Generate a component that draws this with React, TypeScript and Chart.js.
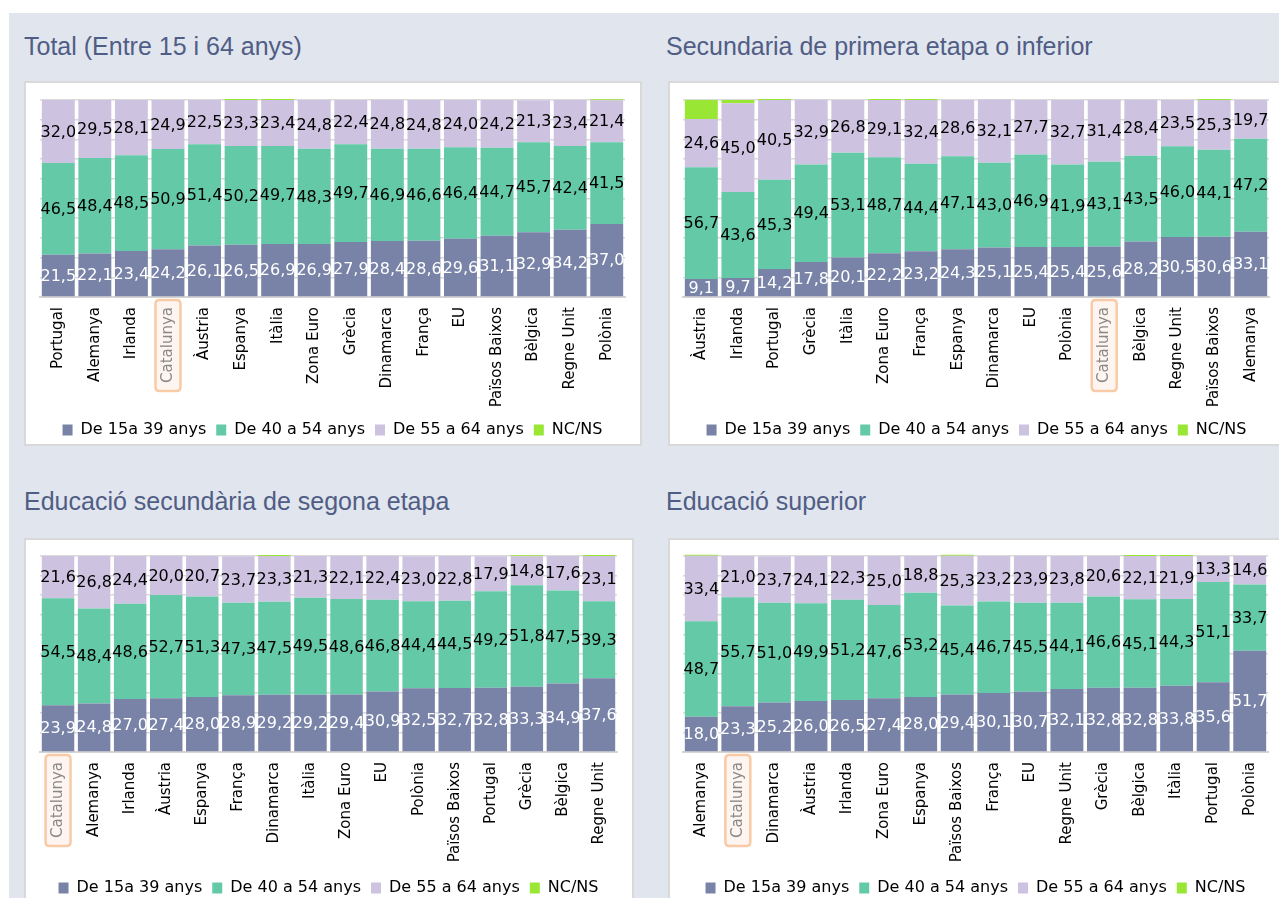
import React, { useEffect, useRef } from 'react';
import { Chart, registerables } from 'chart.js';

Chart.register(...registerables);

const SERIES_NAMES = ['De 15a 39 anys', 'De 40 a 54 anys', 'De 55 a 64 anys', 'NC/NS'];
const SERIES_COLORS = ['#7883A7', '#63C9A7', '#CDC3E0', '#9AE634'];

// Panel 1: Total (Entre 15 i 64 anys)
const totalCategories = ['Portugal', 'Alemanya', 'Irlanda', 'Catalunya', 'Àustria', 'Espanya', 'Itàlia', 'Zona Euro', 'Grècia', 'Dinamarca', 'França', 'EU', 'Països Baixos', 'Bèlgica', 'Regne Unit', 'Polònia'];
const total15to39 = [21.5, 22.1, 23.4, 24.2, 26.1, 26.5, 26.9, 26.9, 27.9, 28.4, 28.6, 29.6, 31.1, 32.9, 34.2, 37.0];
const total40to54 = [46.5, 48.4, 48.5, 50.9, 51.4, 50.2, 49.7, 48.3, 49.7, 46.9, 46.6, 46.4, 44.7, 45.7, 42.4, 41.5];
const total55to64 = [32.0, 29.5, 28.1, 24.9, 22.5, 23.3, 23.4, 24.8, 22.4, 24.8, 24.8, 24.0, 24.2, 21.3, 23.4, 21.4];
const totalNcns = [0, 0, 0, 0, 0, 0.5, 0.5, 0, 0, 0, 0, 0, 0, 0, 0, 0.5];

// Panel 2: Secundaria de primera etapa o inferior
const primCategories = ['Àustria', 'Irlanda', 'Portugal', 'Grècia', 'Itàlia', 'Zona Euro', 'França', 'Espanya', 'Dinamarca', 'EU', 'Polònia', 'Catalunya', 'Bèlgica', 'Regne Unit', 'Països Baixos', 'Alemanya'];
const prim15to39 = [9.1, 9.7, 14.2, 17.8, 20.1, 22.2, 23.2, 24.3, 25.1, 25.4, 25.4, 25.6, 28.2, 30.5, 30.6, 33.1];
const prim40to54 = [56.7, 43.6, 45.3, 49.4, 53.1, 48.7, 44.4, 47.1, 43.0, 46.9, 41.9, 43.1, 43.5, 46.0, 44.1, 47.2];
const prim55to64 = [24.6, 45.0, 40.5, 32.9, 26.8, 29.1, 32.4, 28.6, 32.1, 27.7, 32.7, 31.4, 28.4, 23.5, 25.3, 19.7];
const primNcns = [9.6, 1.7, 0.5, 0, 0, 0.5, 0.5, 0, 0, 0, 0, 0, 0, 0, 0.5, 0];

// Panel 3: Educació secundària de segona etapa
const secCategories = ['Catalunya', 'Alemanya', 'Irlanda', 'Àustria', 'Espanya', 'França', 'Dinamarca', 'Itàlia', 'Zona Euro', 'EU', 'Polònia', 'Països Baixos', 'Portugal', 'Grècia', 'Bèlgica', 'Regne Unit'];
const sec15to39 = [23.9, 24.8, 27.0, 27.4, 28.0, 28.9, 29.2, 29.2, 29.4, 30.9, 32.5, 32.7, 32.8, 33.3, 34.9, 37.6];
const sec40to54 = [54.5, 48.4, 48.6, 52.7, 51.3, 47.3, 47.5, 49.5, 48.6, 46.8, 44.4, 44.5, 49.2, 51.8, 47.5, 39.3];
const sec55to64 = [21.6, 26.8, 24.4, 20.0, 20.7, 23.7, 23.3, 21.3, 22.1, 22.4, 23.0, 22.8, 17.9, 14.8, 17.6, 23.1];
const secNcns = [0, 0, 0, 0, 0, 0, 0.5, 0, 0, 0, 0, 0, 0, 0.5, 0, 0.5];

// Panel 4: Educació superior
const supCategories = ['Alemanya', 'Catalunya', 'Dinamarca', 'Àustria', 'Irlanda', 'Zona Euro', 'Espanya', 'Països Baixos', 'França', 'EU', 'Regne Unit', 'Grècia', 'Bèlgica', 'Itàlia', 'Portugal', 'Polònia'];
const sup15to39 = [18.0, 23.3, 25.2, 26.0, 26.5, 27.4, 28.0, 29.4, 30.1, 30.7, 32.1, 32.8, 32.8, 33.8, 35.6, 51.7];
const sup40to54 = [48.7, 55.7, 51.0, 49.9, 51.2, 47.6, 53.2, 45.4, 46.7, 45.5, 44.1, 46.6, 45.1, 44.3, 51.1, 33.7];
const sup55to64 = [33.4, 21.0, 23.7, 24.1, 22.3, 25.0, 18.8, 25.3, 23.2, 23.9, 23.8, 20.6, 22.1, 21.9, 13.3, 14.6];
const supNcns = [0.5, 0, 0, 0, 0, 0, 0, 0.5, 0, 0, 0, 0, 0.5, 0.5, 0, 0];

const HIGHLIGHT = 'Catalunya';
const DEJAVU = '"DejaVu Sans", Verdana, sans-serif';

type PanelCfg = {
  title: string;
  categories: string[];
  series: number[][];
  left: number;
  top: number;
  w: number;
  h: number;
  pad: { top: number; left: number; right: number; bottom: number };
  axisH: number;
};

const valueLabelPlugin = {
  id: 'valueLabels',
  afterDatasetsDraw(chart: any) {
    const ctx = chart.ctx;
    ctx.save();
    ctx.font = `16px ${DEJAVU}`;
    ctx.textAlign = 'center';
    ctx.textBaseline = 'middle';
    chart.data.datasets.forEach((ds: any, di: number) => {
      if (di === 3) return;
      const meta = chart.getDatasetMeta(di);
      meta.data.forEach((el: any, i: number) => {
        const v = ds.data[i];
        if (v == null) return;
        const p = el.getProps(['x', 'y', 'base'], true);
        ctx.fillStyle = di === 0 ? '#FFFFFF' : '#000000';
        ctx.fillText(v.toFixed(1).replace('.', ','), p.x, (p.y + p.base) / 2 + 1);
      });
    });
    ctx.restore();
  },
};

const highlightPlugin = {
  id: 'highlightLabel',
  beforeDraw(chart: any) {
    const labels: string[] = chart.data.labels;
    const idx = labels.indexOf(HIGHLIGHT);
    if (idx < 0) return;
    const xs = chart.scales.x;
    const ctx = chart.ctx;
    ctx.save();
    ctx.font = `15px ${DEJAVU}`;
    const tw = ctx.measureText(HIGHLIGHT).width;
    const cx = xs.getPixelForTick(idx);
    const bw = 25;
    const y0 = xs.top + 3;
    const bh = tw + 15;
    const x0 = cx - bw / 2;
    const r = 4;
    ctx.beginPath();
    ctx.moveTo(x0 + r, y0);
    ctx.lineTo(x0 + bw - r, y0);
    ctx.quadraticCurveTo(x0 + bw, y0, x0 + bw, y0 + r);
    ctx.lineTo(x0 + bw, y0 + bh - r);
    ctx.quadraticCurveTo(x0 + bw, y0 + bh, x0 + bw - r, y0 + bh);
    ctx.lineTo(x0 + r, y0 + bh);
    ctx.quadraticCurveTo(x0, y0 + bh, x0, y0 + bh - r);
    ctx.lineTo(x0, y0 + r);
    ctx.quadraticCurveTo(x0, y0, x0 + r, y0);
    ctx.closePath();
    ctx.fillStyle = '#FEF5F0';
    ctx.fill();
    ctx.lineWidth = 2.5;
    ctx.strokeStyle = '#F8CBA6';
    ctx.stroke();
    ctx.restore();
  },
};

function StackedPanel({ cfg }: { cfg: PanelCfg }) {
  const ref = useRef<HTMLCanvasElement>(null);
  useEffect(() => {
    const chart = new Chart(ref.current as HTMLCanvasElement, {
      type: 'bar',
      data: {
        labels: cfg.categories,
        datasets: cfg.series.map((d, i) => ({
          label: SERIES_NAMES[i],
          data: d,
          backgroundColor: SERIES_COLORS[i],
          borderWidth: 0,
          barPercentage: 0.9,
          categoryPercentage: 1,
          clip: false as any,
        })),
      },
      options: {
        animation: false,
        responsive: false,
        devicePixelRatio: 1,
        layout: { padding: cfg.pad },
        plugins: {
          legend: {
            position: 'bottom',
            labels: {
              boxWidth: 10,
              boxHeight: 11,
              color: '#000000',
              padding: 10,
              font: { family: DEJAVU, size: 16 },
            },
          },
          tooltip: { enabled: false },
        },
        scales: {
          x: {
            stacked: true,
            grid: { display: false, drawTicks: false },
            border: { display: true, color: '#D4D4D4', width: 2 },
            ticks: {
              autoSkip: false,
              maxRotation: 90,
              minRotation: 90,
              padding: 10,
              font: { family: DEJAVU, size: 15 },
              color: (c: any) => (cfg.categories[c.index] === HIGHLIGHT ? '#888888' : '#000000'),
            },
            afterFit: (s: any) => {
              s.height = cfg.axisH;
            },
          },
          y: {
            stacked: true,
            min: 0,
            max: 100,
            ticks: { display: false, stepSize: 10 },
            grid: { color: '#DADADA', drawTicks: false, lineWidth: 1.5 },
            border: { display: false },
          },
        },
      },
      plugins: [highlightPlugin, valueLabelPlugin],
    });
    return () => chart.destroy();
  }, [cfg]);
  return (
    <canvas
      ref={ref}
      width={cfg.w}
      height={cfg.h}
      style={{ position: 'absolute', left: cfg.left, top: cfg.top, width: cfg.w, height: cfg.h }}
    />
  );
}

const panels: PanelCfg[] = [
  {
    title: 'Total (Entre 15 i 64 anys)',
    categories: totalCategories,
    series: [total15to39, total40to54, total55to64, totalNcns],
    left: 24, top: 81, w: 618, h: 380,
    pad: { top: 19, left: 16, right: 17, bottom: 13 },
    axisH: 115,
  },
  {
    title: 'Secundaria de primera etapa o inferior',
    categories: primCategories,
    series: [prim15to39, prim40to54, prim55to64, primNcns],
    left: 668, top: 81, w: 611, h: 380,
    pad: { top: 19, left: 15, right: 9, bottom: 13 },
    axisH: 115,
  },
  {
    title: 'Educació secundària de segona etapa',
    categories: secCategories,
    series: [sec15to39, sec40to54, sec55to64, secNcns],
    left: 24, top: 538, w: 610, h: 380,
    pad: { top: 18, left: 16, right: 17, bottom: 12 },
    axisH: 118,
  },
  {
    title: 'Educació superior',
    categories: supCategories,
    series: [sup15to39, sup40to54, sup55to64, supNcns],
    left: 668, top: 538, w: 611, h: 380,
    pad: { top: 18, left: 15, right: 11, bottom: 12 },
    axisH: 118,
  },
];

const boxes = [
  { left: 24, top: 81, w: 618, h: 365 },
  { left: 668, top: 81, w: 620, h: 365 },
  { left: 24, top: 538, w: 610, h: 372 },
  { left: 668, top: 538, w: 620, h: 372 },
];

const titlePos = [
  { left: 24, top: 32 },
  { left: 666, top: 32 },
  { left: 24, top: 487 },
  { left: 666, top: 487 },
];

export default function App() {
  return (
    <div style={{ position: 'absolute', left: 0, top: 0, width: 1279, height: 898, overflow: 'hidden', background: '#FFFFFF' }}>
      <div style={{ position: 'absolute', left: 9, top: 13, width: 1270, height: 885, background: '#E1E5EE' }} />
      {panels.map((p, i) => (
        <div
          key={'t' + i}
          style={{
            position: 'absolute',
            left: titlePos[i].left,
            top: titlePos[i].top,
            fontFamily: '"Liberation Sans", Arial, sans-serif',
            fontSize: 25,
            lineHeight: '28px',
            color: '#505D85',
            whiteSpace: 'nowrap',
          }}
        >
          {p.title}
        </div>
      ))}
      {boxes.map((b, i) => (
        <div
          key={'b' + i}
          style={{
            position: 'absolute',
            left: b.left,
            top: b.top,
            width: b.w,
            height: b.h,
            boxSizing: 'border-box',
            background: '#FFFFFF',
            border: '2px solid #D9D9D9',
          }}
        />
      ))}
      {panels.map((p, i) => (
        <StackedPanel key={'c' + i} cfg={p} />
      ))}
    </div>
  );
}
